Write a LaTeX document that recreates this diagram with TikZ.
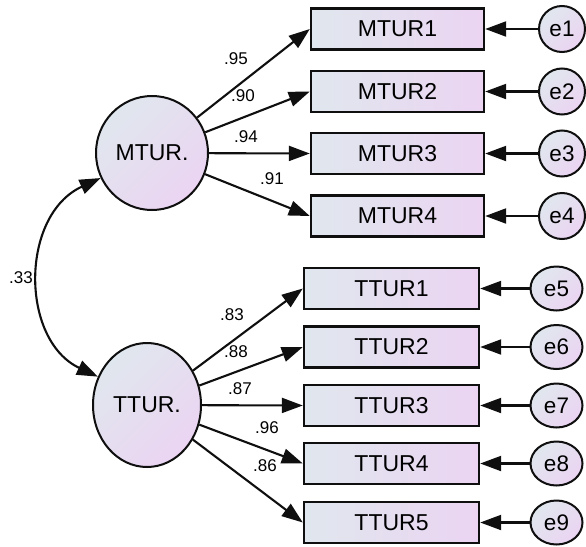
\documentclass[tikz,border=0pt]{standalone}
\usepackage{fontspec}
\setmainfont{Liberation Sans}
\usetikzlibrary{arrows.meta,shapes.geometric}
\definecolor{cA}{RGB}{224,231,238}
\definecolor{cB}{RGB}{235,212,242}
\definecolor{lineC}{RGB}{15,15,15}
\tikzset{
  latent/.style={ellipse,draw=lineC,line width=2pt,top color=cA,bottom color=cB,shading angle=45,inner sep=0pt,font=\fontsize{23}{27}\selectfont},
  obsbox/.style={rectangle,draw=lineC,line width=2.4pt,left color=cA,right color=cB,minimum height=41pt,inner sep=0pt,font=\fontsize{23}{27}\selectfont},
  errc/.style={ellipse,draw=lineC,line width=2pt,top color=cA,bottom color=cB,shading angle=45,inner sep=0pt,font=\fontsize{22.5}{26}\selectfont},
  path/.style={draw=lineC,line width=2.1pt,-{Triangle[length=21pt,width=15pt]}},
  coef/.style={font=\fontsize{17}{20}\selectfont,inner sep=0pt}
}
\begin{document}
\begin{tikzpicture}[x=1pt,y=1pt]
\useasboundingbox (0,0) rectangle (586,-546);
% latent variables
\node[latent,minimum width=112pt,minimum height=114pt] (M) at (152,-153) {MTUR.};
\node[latent,minimum width=108pt,minimum height=124pt] (T) at (147,-405) {TTUR.};
% MTUR indicators
\foreach \i/\y in {1/29,2/91.5,3/153.5,4/216}{
  \node[obsbox,minimum width=173pt] (M\i) at (397.5,-\y) {MTUR\i};
  \node[errc,minimum width=46pt,minimum height=46pt] (e\i) at (562,-\y) {e\i};
  \draw[path] (e\i) -- (M\i.east);
  \draw[path] (M) -- (M\i.west);
}
% TTUR indicators
\foreach \i/\y/\k in {1/288.5/5,2/347/6,3/405.5/7,4/463.5/8,5/522.5/9}{
  \node[obsbox,minimum width=175pt] (T\i) at (391.5,-\y) {TTUR\i};
  \node[errc,minimum width=52pt,minimum height=44pt] (e\k) at (556.5,-\y) {e\k};
  \draw[path] (e\k) -- (T\i.east);
  \draw[path] (T) -- (T\i.west);
}
% covariance
\draw[draw=lineC,line width=2.1pt,{Triangle[length=21pt,width=15pt]}-{Triangle[length=21pt,width=15pt]}]
  (M.206) .. controls (20,-215) and (20,-340) .. (T.150);
% coefficients
\node[coef] (l33) at (21,-278) {.33};
\node[coef] (l95) at (236,-59) {.95};
\node[coef] (l90) at (243,-96) {.90};
\node[coef] (l94) at (246,-137) {.94};
\node[coef] (l91) at (272,-179) {.91};
\node[coef] (l83) at (232,-315) {.83};
\node[coef] (l88) at (236,-352) {.88};
\node[coef] (l87) at (240,-389) {.87};
\node[coef] (l96) at (267,-428) {.96};
\node[coef] (l86) at (265,-466) {.86};
\end{tikzpicture}
\end{document}
